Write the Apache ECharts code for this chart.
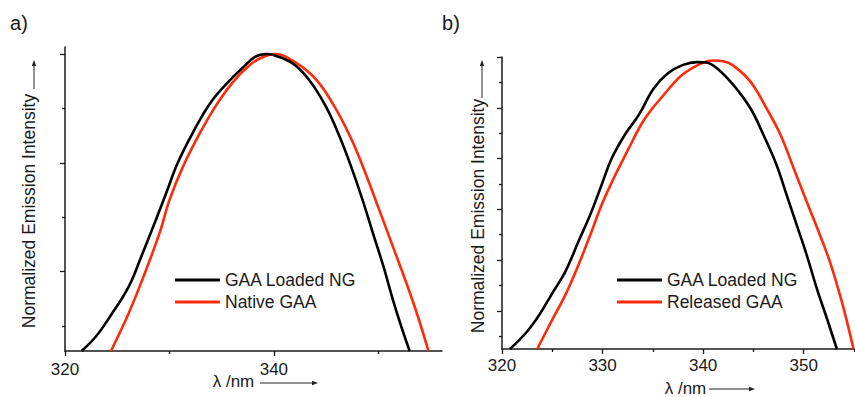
<!DOCTYPE html>
<html>
<head>
<meta charset="utf-8">
<script src="https://cdn.jsdelivr.net/npm/echarts@6/dist/echarts.min.js"></script>
<style>
html,body{margin:0;padding:0;background:#fff;}
#chart{width:855px;height:397px;}
</style>
</head>
<body>
<div id="chart"></div>
<script>
// ---------- Panel a ----------
var aLoadedX = [321.6, 323.0, 324.3, 326.1, 327.3, 328.8, 329.7, 330.8, 332.3, 334.0, 335.8, 337.1, 338.2, 339.3, 339.9, 341.8, 343.4, 345.0, 346.3, 347.4, 348.5, 349.5, 350.5, 351.4, 352.2, 353.0];
var aLoadedY = [-0.092, -0.037, 0.034, 0.145, 0.255, 0.40, 0.49, 0.60, 0.715, 0.825, 0.904, 0.953, 0.99, 1.0, 0.997, 0.966, 0.904, 0.806, 0.696, 0.586, 0.463, 0.34, 0.218, 0.096, -0.002, -0.092];
var aNativeX = [324.4, 326.1, 327.5, 329.1, 330.0, 331.3, 332.9, 334.5, 336.1, 337.7, 339.0, 340.1, 342.2, 344.1, 346.0, 347.6, 348.9, 350.1, 351.4, 352.7, 353.8, 354.8];
var aNativeY = [-0.092, 0.047, 0.18, 0.347, 0.463, 0.586, 0.708, 0.813, 0.898, 0.96, 0.99, 1.0, 0.966, 0.904, 0.794, 0.672, 0.549, 0.426, 0.292, 0.157, 0.034, -0.092];
var aXMajor = [320, 340];
var aXMinor = [330, 350];
var aYMajor = [0.2, 0.6, 1.0];
var aYMinor = [0, 0.4, 0.8];

// ---------- Panel b ----------
var bLoadedX = [320.8, 322.5, 323.7, 325.1, 326.3, 327.6, 328.9, 329.9, 330.9, 332.2, 333.6, 335.1, 336.5, 338.0, 339.4, 340.3, 341.4, 343.0, 344.7, 346.0, 347.3, 348.3, 349.3, 350.3, 351.3, 352.3, 353.3];
var bLoadedY = [-0.15, -0.081, -0.016, 0.076, 0.155, 0.273, 0.391, 0.496, 0.60, 0.693, 0.772, 0.877, 0.936, 0.969, 0.98, 0.978, 0.955, 0.89, 0.798, 0.693, 0.575, 0.457, 0.339, 0.22, 0.089, -0.029, -0.15];
var bReleasedX = [323.5, 324.9, 326.3, 327.6, 328.9, 329.9, 331.1, 332.6, 333.9, 334.9, 335.9, 337.9, 340.0, 341.0, 342.0, 343.0, 344.7, 346.3, 347.7, 349.0, 350.3, 351.6, 352.6, 353.6, 354.3, 354.95];
var bReleasedY = [-0.15, -0.042, 0.063, 0.181, 0.312, 0.417, 0.522, 0.64, 0.738, 0.795, 0.842, 0.929, 0.978, 0.986, 0.983, 0.966, 0.903, 0.798, 0.693, 0.562, 0.43, 0.30, 0.194, 0.063, -0.042, -0.15];
var bXMajor = [320, 330, 340, 350];
var bXMinor = [325, 335, 345, 355];
var bYMajor = [0, 0.2, 0.4, 0.6, 0.8, 1.0];
var bYMinor = [-0.1, 0.1, 0.3, 0.5, 0.7, 0.9];

var seriesNames = ['GAA Loaded NG', 'Native GAA', 'Released GAA'];
var panelLabels = ['a)', 'b)'];
var xTitle = 'λ /nm';
var yTitle = 'Normalized Emission Intensity';

function zip(xs, ys) { return xs.map(function (x, i) { return [x, ys[i]]; }); }

var FONT = 'Liberation Sans, Arial, sans-serif';
var AX = '#1a1a1a';
var RED = '#ff2a0a';

function xAxisPair(grid, min, max, major, minor, margin) {
  return [
    { type: 'value', gridIndex: grid, position: 'bottom', min: min, max: max,
      axisLine: { show: true, onZero: false, lineStyle: { color: AX, width: 1.5 } },
      axisTick: { show: true, inside: false, length: 5, customValues: major, lineStyle: { color: AX, width: 1.3 } },
      axisLabel: { show: true, customValues: major, margin: margin, color: '#1a1a1a', fontSize: 17, fontFamily: FONT },
      splitLine: { show: false } },
    { type: 'value', gridIndex: grid, position: 'bottom', min: min, max: max,
      axisLine: { show: false, onZero: false },
      axisTick: { show: true, inside: false, length: 3, customValues: minor, lineStyle: { color: AX, width: 1.3 } },
      axisLabel: { show: false }, splitLine: { show: false } }
  ];
}
function yAxisPair(grid, min, max, major, minor) {
  return [
    { type: 'value', gridIndex: grid, position: 'left', min: min, max: max,
      axisLine: { show: true, onZero: false, lineStyle: { color: AX, width: 1.5 } },
      axisTick: { show: true, inside: false, length: 5, customValues: major, lineStyle: { color: AX, width: 1.3 } },
      axisLabel: { show: false }, splitLine: { show: false } },
    { type: 'value', gridIndex: grid, position: 'left', min: min, max: max,
      axisLine: { show: false, onZero: false },
      axisTick: { show: true, inside: false, length: 3, customValues: minor, lineStyle: { color: AX, width: 1.3 } },
      axisLabel: { show: false }, splitLine: { show: false } }
  ];
}

function lineSeries(name, data, color, xi, yi) {
  return { type: 'line', name: name, data: data, xAxisIndex: xi, yAxisIndex: yi,
    showSymbol: false, symbol: 'none', smooth: 0.4, clip: true,
    lineStyle: { color: color, width: 2.6 }, itemStyle: { color: color }, z: color === RED ? 2 : 3 };
}

function arrowH(x1, x2, y) {
  return [
    { type: 'line', shape: { x1: x1, y1: y, x2: x2 - 4, y2: y }, style: { stroke: '#222', lineWidth: 1 } },
    { type: 'polygon', shape: { points: [[x2, y], [x2 - 6, y - 2.2], [x2 - 6, y + 2.2]] }, style: { fill: '#222' } }
  ];
}
function arrowV(x, y1, y2) {
  return [
    { type: 'line', shape: { x1: x, y1: y1, x2: x, y2: y2 + 4 }, style: { stroke: '#222', lineWidth: 1 } },
    { type: 'polygon', shape: { points: [[x, y2], [x - 2.2, y2 + 6], [x + 2.2, y2 + 6]] }, style: { fill: '#222' } }
  ];
}
function txt(s, x, y, size, rot) {
  return { type: 'text', x: x, y: y, rotation: rot || 0,
    style: { text: s, fill: '#1a1a1a', font: size + 'px ' + FONT, textAlign: 'center', textVerticalAlign: 'middle' } };
}

var chart = echarts.init(document.getElementById('chart'), null, { renderer: 'svg' });
var option = {
  backgroundColor: '#fff',
  animation: false,
  grid: [
    { left: 65, top: 47, width: 377, height: 304, outerBoundsMode: 'none', containLabel: false },
    { left: 502, top: 57, width: 353, height: 292, outerBoundsMode: 'none', containLabel: false }
  ],
  xAxis: [].concat(
    xAxisPair(0, 320, 356.1, aXMajor, aXMinor, 10),
    xAxisPair(1, 320, 355.1, bXMajor, bXMinor, 8)
  ),
  yAxis: [].concat(
    yAxisPair(0, -0.092, 1.026, aYMajor, aYMinor),
    yAxisPair(1, -0.15, 1.0, bYMajor, bYMinor)
  ),
  legend: [
    { data: [seriesNames[0], seriesNames[1]], left: 170, top: 266, orient: 'vertical',
      icon: 'rect', itemWidth: 45, itemHeight: 3, itemGap: 4,
      textStyle: { fontSize: 17.5, fontFamily: FONT, color: '#1a1a1a', lineHeight: 18 } },
    { data: [seriesNames[0], seriesNames[2]], left: 612, top: 266, orient: 'vertical',
      icon: 'rect', itemWidth: 45, itemHeight: 3, itemGap: 4,
      textStyle: { fontSize: 17.5, fontFamily: FONT, color: '#1a1a1a', lineHeight: 18 } }
  ],
  series: [
    lineSeries(seriesNames[0], zip(aLoadedX, aLoadedY), '#000000', 0, 0),
    lineSeries(seriesNames[1], zip(aNativeX, aNativeY), RED, 0, 0),
    lineSeries(seriesNames[0], zip(bLoadedX, bLoadedY), '#000000', 2, 2),
    lineSeries(seriesNames[2], zip(bReleasedX, bReleasedY), RED, 2, 2)
  ],
  graphic: [].concat(
    [txt(panelLabels[0], 19, 23, 20), txt(panelLabels[1], 451, 23, 20)],
    [txt(xTitle, 233.5, 381, 17), txt(xTitle, 685.5, 388, 17)],
    arrowH(260, 318, 383), arrowH(709, 755, 389),
    [txt(yTitle, 29, 211, 17.5, Math.PI / 2), txt(yTitle, 478, 216, 17.5, Math.PI / 2)],
    arrowV(34, 89, 60), arrowV(482, 98, 60)
  )
};
chart.setOption(option);
</script>
</body>
</html>
